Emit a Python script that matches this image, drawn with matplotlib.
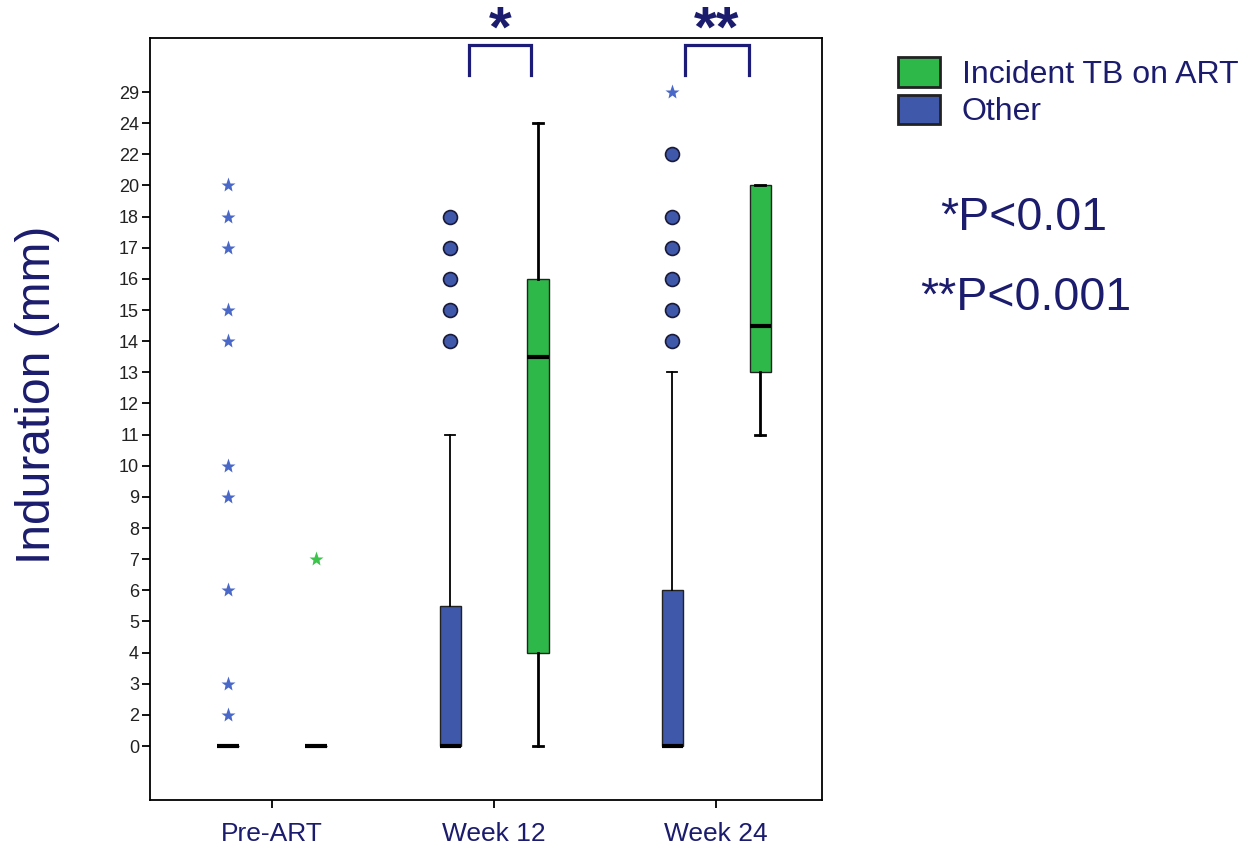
import numpy as np
import matplotlib.pyplot as plt
from matplotlib.patches import Patch

plt.rcParams['font.family'] = ['Liberation Sans', 'DejaVu Sans']

# the y axis is ordinal: every observed value gets one equally spaced slot
tick_values = [0, 2, 3, 4, 5, 6, 7, 8, 9, 10, 11, 12, 13, 14, 15, 16, 17, 18, 20, 22, 24, 29]

timepoints = ['Pre-ART', 'Week 12', 'Week 24']

# "Other" group (blue)
other_q1 = [0, 0, 0]
other_med = [0, 0, 0]
other_q3 = [0, 5.5, 6]
other_lo = [0, 0, 0]
other_hi = [0, 11, 13]
other_circles = [[], [14, 15, 16, 17, 18], [14, 15, 16, 17, 18, 22]]
other_stars = [[2, 3, 6, 9, 10, 14, 15, 17, 18, 20], [], [29]]

# "Incident TB on ART" group (green)
tb_q1 = [0, 4, 13]
tb_med = [0, 13.5, 14.5]
tb_q3 = [0, 16, 20]
tb_lo = [0, 0, 11]
tb_hi = [0, 24, 20]
tb_stars = [[7], [], []]

blue = '#3f58a9'
green = '#2fb84a'
navy = '#1c1c6e'


def pos(v):
    # value -> slot on the ordinal axis
    return np.interp(v, tick_values, np.arange(len(tick_values)))


def make_stats(q1, med, q3, lo, hi):
    stats = []
    for i in range(len(q1)):
        stats.append(dict(q1=pos(q1[i]), med=pos(med[i]), q3=pos(q3[i]),
                          whislo=pos(lo[i]), whishi=pos(hi[i]), fliers=[]))
    return stats


fig = plt.figure(figsize=(12.48, 8.48), dpi=100)
ax = fig.add_axes([150 / 1248, 1 - 800 / 848, 672 / 1248, 762 / 848])

x = np.arange(len(timepoints))
off = 0.198

ax.bxp(make_stats(other_q1, other_med, other_q3, other_lo, other_hi),
       positions=x - off, widths=0.095, showfliers=False, patch_artist=True,
       boxprops=dict(facecolor=blue, edgecolor='#222222', linewidth=1),
       medianprops=dict(color='black', linewidth=3),
       whiskerprops=dict(color='black', linewidth=1.3),
       capprops=dict(color='black', linewidth=1.3), capwidths=0.045)
ax.bxp(make_stats(tb_q1, tb_med, tb_q3, tb_lo, tb_hi),
       positions=x + off, widths=0.095, showfliers=False, patch_artist=True,
       boxprops=dict(facecolor=green, edgecolor='#222222', linewidth=1),
       medianprops=dict(color='black', linewidth=3),
       whiskerprops=dict(color='black', linewidth=2),
       capprops=dict(color='black', linewidth=2), capwidths=0.045)

# outliers: circles and extreme stars
for i in range(len(timepoints)):
    if other_circles[i]:
        ax.plot([x[i] - off] * len(other_circles[i]), pos(other_circles[i]), 'o',
                ms=10, mfc=blue, mec='#1a1a3a', mew=1.2)
    if other_stars[i]:
        ax.plot([x[i] - off] * len(other_stars[i]), pos(other_stars[i]), '*',
                ms=11, color='#4a68c8', mec='none')
    if tb_stars[i]:
        ax.plot([x[i] + off] * len(tb_stars[i]), pos(tb_stars[i]), '*',
                ms=11, color='#3cc44c', mec='none')

ax.set_xlim(-0.5495, 2.477)
ax.set_ylim(-1.734, 22.735)
ax.set_xticks(x)
ax.set_xticklabels(timepoints, fontsize=19, color=navy)
ax.set_yticks(np.arange(len(tick_values)))
ax.set_yticklabels([str(v) for v in tick_values], fontsize=13, color='#222222')
ax.tick_params(axis='y', length=6, width=1.3, pad=2)
ax.tick_params(axis='x', length=6, width=1.3, pad=10)
for s in ax.spines.values():
    s.set_linewidth(1.3)

ax.set_ylabel('Induration (mm)', fontsize=34.5, color=navy, va='center')
ax.yaxis.set_label_coords(-0.1667, 0.5315)

# significance brackets
brackets = [(0.887, 1.167, '*'), (1.860, 2.149, '**')]
for x0, x1, mark in brackets:
    ax.plot([x0, x0, x1, x1], [21.55, 22.51, 22.51, 21.55], color='#1c1c78',
            lw=2.3, clip_on=False, solid_joinstyle='miter')
    xm = ax.transData.transform(((x0 + x1) / 2, 0))[0] / fig.bbox.width
    fig.text(xm, 1 - 47 / 848, mark, fontsize=42, fontweight='bold',
             color=navy, ha='center', va='baseline')

handles = [Patch(facecolor=green, edgecolor='#222222', linewidth=2),
           Patch(facecolor=blue, edgecolor='#222222', linewidth=2)]
fig.legend(handles, ['Incident TB on ART', 'Other'], loc='upper left',
           bbox_to_anchor=(898 / 1248, 1 - 57 / 848), frameon=False,
           fontsize=23, labelcolor=navy, handlelength=1.3, handleheight=1.05,
           handletextpad=0.7, labelspacing=0.15, borderpad=0, borderaxespad=0)

fig.text(940 / 1248, 1 - 218 / 848, '*P<0.01', fontsize=33.5, color=navy, va='center')
fig.text(920 / 1248, 1 - 298 / 848, '**P<0.001', fontsize=33.5, color=navy, va='center')

fig.savefig('out.png', dpi=100)
